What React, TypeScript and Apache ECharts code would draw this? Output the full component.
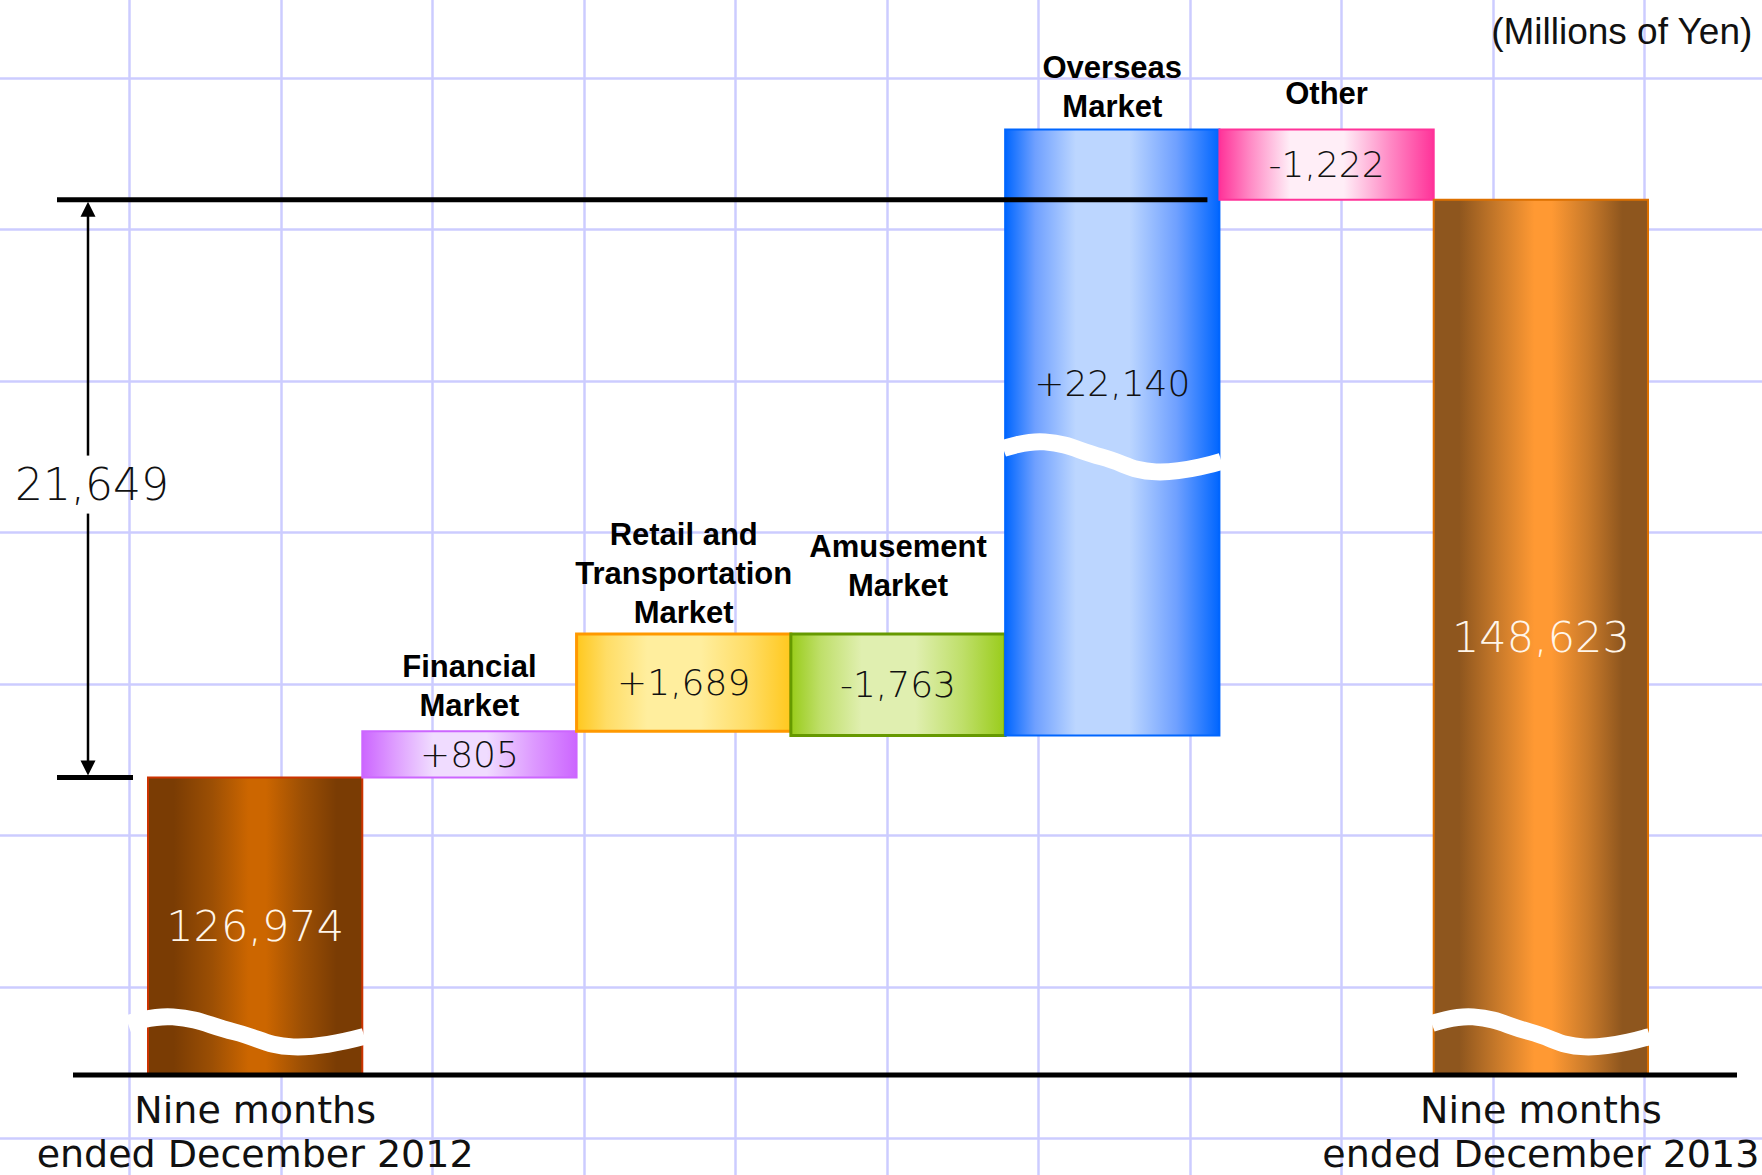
import React, { useEffect, useRef } from 'react';
import * as echarts from 'echarts';

// ---------------- data ----------------
const categories = [
  'Nine months\nended December 2012',
  'Financial\nMarket',
  'Retail and\nTransportation\nMarket',
  'Amusement\nMarket',
  'Overseas\nMarket',
  'Other',
  'Nine months\nended December 2013',
];
const values = [126974, 805, 1689, -1763, 22140, -1222, 148623];
const isTotal = [true, false, false, false, false, false, true];
const unitNote = '(Millions of Yen)';

// broken value axis (the original is not drawn to scale)
const axisBreaks = [
  { from: 600, to: 122700 },
  { from: 132400, to: 144300 },
];
const BREAK_GAP = 300;

// ---------------- styles ----------------
const barColors = [
  { edge: '#7a3c04', mid: '#9c4f04', center: '#cc6600', border: '#cc3300', lw: 2 },
  { edge: '#cc66ff', mid: '#dd99ff', center: '#f0dcff', border: '#cc66ff', lw: 2 },
  { edge: '#ffc81e', mid: '#ffdd66', center: '#ffee9e', border: '#ff9900', lw: 3 },
  { edge: '#99cc1a', mid: '#bfdf6a', center: '#e0efb0', border: '#669900', lw: 3 },
  { edge: '#0066ff', mid: '#6fa0ff', center: '#bcd6ff', border: '#0066ff', lw: 2 },
  { edge: '#ff3399', mid: '#ff88c4', center: '#ffeef7', border: '#ff3399', lw: 2 },
  { edge: '#8e561e', mid: '#c97a2a', center: '#ff9933', border: '#dd7000', lw: 2 },
];
const labelGap = [0, 6, 2, 29, 3, 16, 0];
const labelPos = [0.5, 0.5, 0.5, 0.5, 0.42, 0.5, 0.5];
const waveShape = [
  [0, -0.55],
  [0.19, -1],
  [0.45, 0],
  [0.7, 1],
  [1, 0.3],
];
const NUM_FONT = '"DejaVu Sans", Verdana, sans-serif';
const BOLD_FONT = '"Liberation Sans", Arial, Helvetica, sans-serif';

// ---------------- derived ----------------
const fmt = (v: number) => v.toLocaleString('en-US');

let running = 0;
const ranges: number[][] = values.map((v, i) => {
  if (isTotal[i]) {
    running = v;
    return [0, v];
  }
  const s = running;
  running += v;
  return [Math.min(s, running), Math.max(s, running)];
});

const valueLabels = values.map((v, i) =>
  isTotal[i] ? fmt(v) : (v > 0 ? '+' : '') + fmt(v)
);

function disp(v: number): number {
  let removed = 0;
  for (const b of axisBreaks) {
    if (v >= b.to) removed += b.to - b.from - BREAK_GAP;
    else if (v > b.from) {
      return b.from - removed + (BREAK_GAP * (v - b.from)) / (b.to - b.from);
    }
  }
  return v - removed;
}

const barData = ranges.map((r, i) => [i, disp(r[0]), disp(r[1])]);
const startTotal = values[0];
const endTotal = values[values.length - 1];
const diffLabel = fmt(endTotal - startTotal);
const crossIndex = ranges.findIndex(
  (r, i) => !isTotal[i] && r[0] < endTotal && r[1] > endTotal
);

function wave(x0: number, x1: number, yc: number, amp: number) {
  return waveShape.map(([t, d]) => [x0 + (x1 - x0) * t, yc + d * amp]);
}

function gradient(c: any, total: boolean) {
  const stops = total
    ? [
        { offset: 0, color: c.edge },
        { offset: 0.12, color: c.edge },
        { offset: 0.3, color: c.mid },
        { offset: 0.47, color: c.center },
        { offset: 0.55, color: c.center },
        { offset: 0.72, color: c.mid },
        { offset: 0.88, color: c.edge },
        { offset: 1, color: c.edge },
      ]
    : [
        { offset: 0, color: c.edge },
        { offset: 0.14, color: c.mid },
        { offset: 0.33, color: c.center },
        { offset: 0.58, color: c.center },
        { offset: 0.8, color: c.mid },
        { offset: 1, color: c.edge },
      ];
  return new echarts.graphic.LinearGradient(0, 0, 1, 0, stops);
}

const renderBar = (params: any, api: any) => {
  const i = api.value(0);
  const lo = api.value(1);
  const hi = api.value(2);
  const pLo = api.coord([i, lo]);
  const pHi = api.coord([i, hi]);
  const w = api.size([1, 0])[0];
  const x0 = pLo[0] - w / 2;
  const top = pHi[1];
  const bottom = pLo[1];
  const c = barColors[i];
  const children: any[] = [
    {
      type: 'rect',
      shape: { x: x0, y: top, width: w, height: bottom - top },
      style: { fill: gradient(c, isTotal[i]), stroke: c.border, lineWidth: c.lw },
    },
  ];
  const [rLo, rHi] = ranges[i];
  // only the lowest break that a bar spans is marked with a wave
  const b = axisBreaks.find((br) => rLo < br.from && rHi > br.to);
  if (b) {
    const yc = api.coord([i, disp(b.from) + BREAK_GAP / 2])[1];
    const ext = i === 0 ? 20 : 2;
    children.push({
      type: 'polyline',
      shape: { points: wave(x0 - ext, x0 + w + 2, yc, 15), smooth: 0.45 },
      style: { stroke: '#ffffff', lineWidth: 17, fill: null },
    });
  }
  children.push({
    type: 'text',
    x: pLo[0],
    y: top + (bottom - top) * labelPos[i],
    style: {
      text: valueLabels[i],
      align: 'center',
      verticalAlign: 'middle',
      fontSize: isTotal[i] ? 43 : 36,
      fontFamily: NUM_FONT,
      fontWeight: 300,
      fill: isTotal[i] ? '#fff6ea' : '#111111',
    },
  });
  if (!isTotal[i]) {
    children.push({
      type: 'text',
      x: pLo[0],
      y: top - labelGap[i],
      style: {
        text: categories[i],
        align: 'center',
        verticalAlign: 'bottom',
        fontSize: 31,
        lineHeight: 39,
        fontWeight: 'bold',
        fontFamily: BOLD_FONT,
        fill: '#000000',
      },
    });
  }
  return { type: 'group', children };
};

const renderBracket = (params: any, api: any) => {
  const lo = api.value(1);
  const hi = api.value(2);
  const w = api.size([1, 0])[0];
  const p0 = api.coord([0, lo]);
  const yBot = p0[1];
  const yTop = api.coord([0, hi])[1];
  const yZero = api.coord([0, 0])[1];
  const xBar0 = p0[0] - w / 2;
  const xLastR = api.coord([categories.length - 1, 0])[0] + w / 2;
  const xCrossR = api.coord([crossIndex, hi])[0] + w / 2;
  const ax = xBar0 - 60;
  const labelY = (yTop + yBot) / 2 - 4;
  const line = (x1: number, y1: number, x2: number, y2: number, lw: number) => ({
    type: 'line',
    shape: { x1, y1, x2, y2 },
    style: { stroke: '#000000', lineWidth: lw },
  });
  return {
    type: 'group',
    children: [
      line(xBar0 - 75, yZero, xLastR + 89, yZero, 5),
      line(ax - 31, yTop, xCrossR - 12, yTop, 5),
      line(ax - 31, yBot, ax + 45, yBot, 5),
      line(ax, yTop + 14, ax, labelY - 29, 2.5),
      line(ax, labelY + 29, ax, yBot - 14, 2.5),
      {
        type: 'polygon',
        shape: { points: [[ax, yTop + 2], [ax - 7.5, yTop + 17], [ax + 7.5, yTop + 17]] },
        style: { fill: '#000000' },
      },
      {
        type: 'polygon',
        shape: { points: [[ax, yBot - 2], [ax - 7.5, yBot - 17], [ax + 7.5, yBot - 17]] },
        style: { fill: '#000000' },
      },
      {
        type: 'text',
        x: ax + 4,
        y: labelY,
        style: {
          text: diffLabel,
          align: 'center',
          verticalAlign: 'middle',
          fontSize: 44,
          fontWeight: 300,
          fontFamily: NUM_FONT,
          fill: '#111111',
        },
      },
    ],
  };
};

const hiddenAxis = {
  axisLine: { show: false },
  axisTick: { show: false },
  axisLabel: { show: false },
};

const option: any = {
  animation: false,
  backgroundColor: '#ffffff',
  graphic: [
    {
      type: 'text',
      right: 9,
      top: 13,
      style: {
        text: unitNote,
        fontSize: 37,
        fontFamily: BOLD_FONT,
        fill: '#111111',
      },
      z: 10,
    },
  ],
  grid: [
    { left: 148, right: 114, top: 40, bottom: 100, containLabel: false, outerBoundsMode: 'none' },
    { left: -22, right: -20, top: -100, bottom: -115, containLabel: false, outerBoundsMode: 'none' },
  ],
  xAxis: [
    {
      type: 'category',
      gridIndex: 0,
      data: categories,
      boundaryGap: true,
      axisLine: { show: false },
      axisTick: { show: false },
      splitLine: { show: false },
      axisLabel: {
        interval: 0,
        margin: 13,
        fontSize: 38,
        lineHeight: 44,
        fontFamily: NUM_FONT,
        color: '#111111',
        formatter: (v: string, i: number) => (isTotal[i] ? v : ''),
      },
    },
    {
      type: 'value',
      gridIndex: 1,
      min: 0,
      max: 1804,
      interval: 151.5,
      ...hiddenAxis,
      splitLine: { show: true, lineStyle: { color: '#ccccff', width: 2.5 } },
    },
  ],
  yAxis: [
    { type: 'value', gridIndex: 0, min: 0, max: 18000, show: false, splitLine: { show: false } },
    {
      type: 'value',
      gridIndex: 1,
      min: 0,
      max: 1390,
      interval: 151.5,
      ...hiddenAxis,
      splitLine: { show: true, lineStyle: { color: '#ccccff', width: 2.5 } },
    },
  ],
  series: [
    {
      type: 'custom',
      name: 'bars',
      xAxisIndex: 0,
      yAxisIndex: 0,
      clip: false,
      z: 2,
      renderItem: renderBar,
      encode: { x: 0, y: [1, 2] },
      data: barData,
    },
    {
      type: 'custom',
      name: 'bracket',
      xAxisIndex: 0,
      yAxisIndex: 0,
      clip: false,
      z: 3,
      renderItem: renderBracket,
      encode: { x: 0, y: [1, 2] },
      data: [[0, disp(startTotal), disp(endTotal)]],
    },
  ],
};

export default function App() {
  const ref = useRef<HTMLDivElement>(null);
  useEffect(() => {
    const chart = echarts.init(ref.current as HTMLDivElement, null, { renderer: 'svg' });
    chart.setOption(option);
    return () => chart.dispose();
  }, []);
  return (
    <div
      ref={ref}
      style={{ position: 'absolute', left: 0, top: 0, width: 1762, height: 1175, background: '#ffffff' }}
    />
  );
}
